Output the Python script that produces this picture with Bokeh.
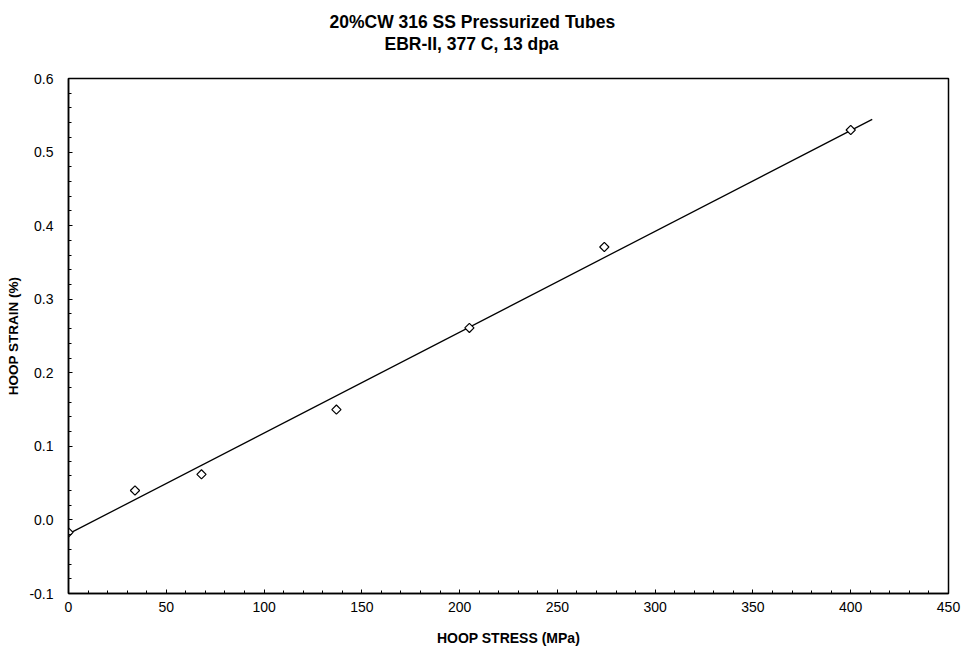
import math
from bokeh.plotting import figure
from bokeh.models import Range1d, Title, FixedTicker
from bokeh.embed import file_html
from bokeh.resources import INLINE

# Hoop stress (MPa) and measured hoop strain (%)
stress = [0, 34, 68, 137, 205, 274, 400]
strain = [-0.017, 0.040, 0.062, 0.150, 0.261, 0.371, 0.530]

# Linear fit through the data
fit_slope = 0.001371
fit_intercept = -0.019
fit_x = [0, 411]
fit_y = [fit_intercept + fit_slope * x for x in fit_x]

x_ticks = [0, 50, 100, 150, 200, 250, 300, 350, 400, 450]
y_ticks = [-0.1, 0.0, 0.1, 0.2, 0.3, 0.4, 0.5, 0.6]

title_lines = ["20%CW 316 SS Pressurized Tubes", "EBR-II, 377 C, 13 dpa"]

FONT = "Liberation Sans"
W, H = 964, 649
LEFT, RIGHT, TOP, BOTTOM = 68, 16, 78, 56

p = figure(width=W, height=H, output_backend="svg", toolbar_location=None,
           x_range=Range1d(0, 450), y_range=Range1d(-0.1, 0.6),
           min_border_left=LEFT, min_border_right=RIGHT,
           min_border_top=TOP, min_border_bottom=BOTTOM)
p.background_fill_color = "white"
p.border_fill_color = "white"
p.outline_line_color = "black"
p.outline_line_width = 1.5
p.xgrid.visible = False
p.ygrid.visible = False

for ax in (p.xaxis, p.yaxis):
    ax.axis_line_color = "black"
    ax.axis_line_width = 1.5
    ax.major_tick_in = 4
    ax.major_tick_out = 0
    ax.minor_tick_in = 3
    ax.minor_tick_out = 0
    ax.major_tick_line_color = "black"
    ax.minor_tick_line_color = "black"
    ax.major_label_text_font = FONT
    ax.major_label_text_font_size = "14px"
    ax.major_label_text_color = "black"
    ax.axis_label_text_font = FONT
    ax.axis_label_text_font_style = "bold"
    ax.axis_label_text_color = "black"

p.xaxis.axis_label_text_font_size = "14px"
p.yaxis.axis_label_text_font_size = "13.5px"
p.xaxis.ticker = FixedTicker(ticks=x_ticks, minor_ticks=list(range(0, 451, 10)))
p.yaxis.ticker = FixedTicker(ticks=y_ticks,
                             minor_ticks=[round(-0.1 + 0.02 * i, 2) for i in range(36)])
p.xaxis.major_label_overrides = {t: str(t) for t in x_ticks}
p.yaxis.major_label_overrides = {t: f"{t:.1f}" for t in y_ticks}
p.xaxis.major_label_standoff = 8
p.yaxis.major_label_standoff = 15
p.xaxis.axis_label_standoff = 15
p.yaxis.axis_label_standoff = 5
p.xaxis.axis_label = "HOOP STRESS (MPa)"
p.yaxis.axis_label = "HOOP STRAIN (%)"

# Fit line and measured points (open diamonds)
p.line(fit_x, fit_y, line_color="black", line_width=1.3)
p.scatter(stress, strain, marker="square", angle=math.pi / 4, size=6.5,
          fill_color="white", line_color="black", line_width=1.2)

# Two-line bold title: a blank spacer panel sits next to the frame,
# then the second line, then the first line on top
p.title.visible = False
p.add_layout(Title(text=" ", text_font_size="1px", standoff=22), "above")
for txt, off in [(title_lines[1], 316), (title_lines[0], 261)]:
    p.add_layout(Title(text=txt, align="left", offset=off, standoff=0,
                       text_font=FONT, text_font_style="bold",
                       text_font_size="17.5px", text_color="black"), "above")

open("out.html", "w").write(file_html(p, INLINE))
